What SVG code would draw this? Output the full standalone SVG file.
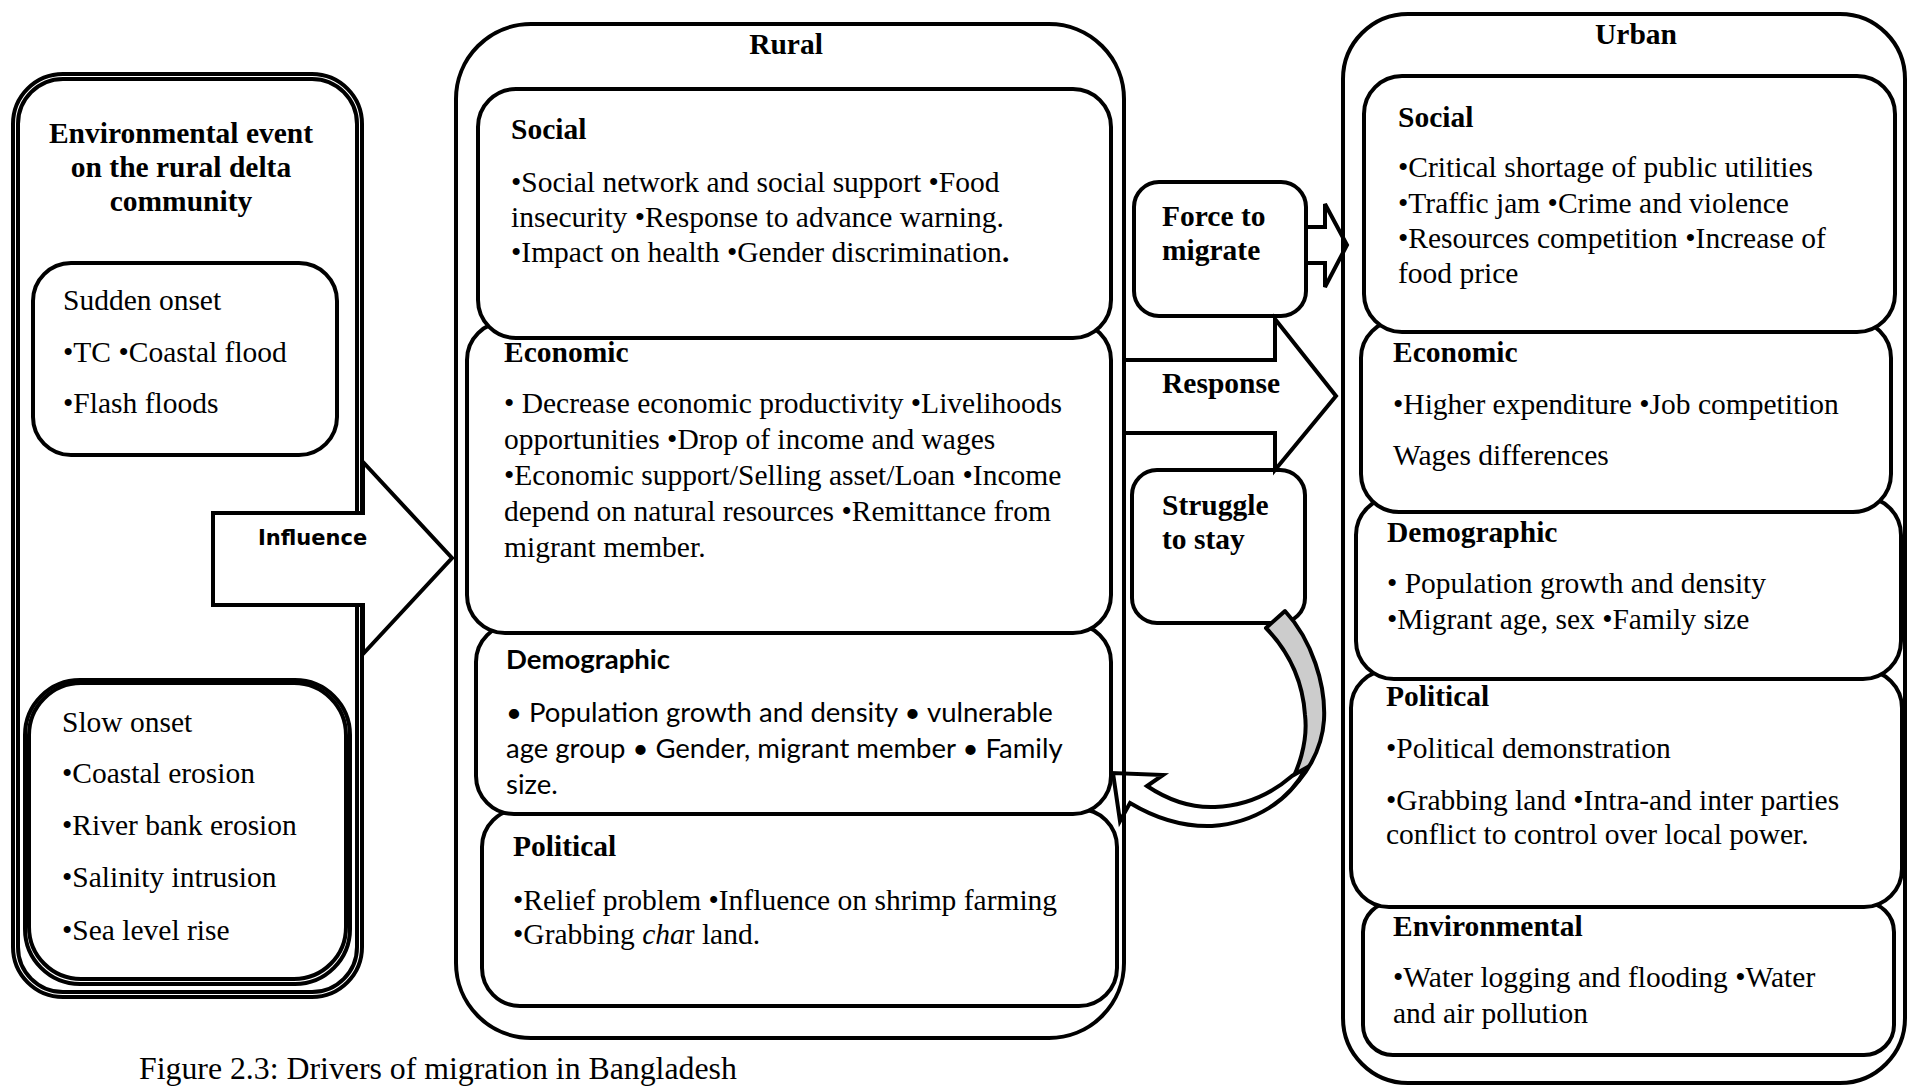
<svg xmlns="http://www.w3.org/2000/svg" width="1912" height="1086" viewBox="0 0 1912 1086">
<style>
.bx{fill:#fff;stroke:#000;stroke-width:4}
.ol{fill:none;stroke:#000;stroke-width:4}
.ar{fill:#fff;stroke:#000;stroke-width:4}
text{font-family:"Liberation Serif","Times New Roman",serif;font-size:29.5px;fill:#000}
.b{font-weight:bold}
.c{text-anchor:middle}
.sn{font-family:Lato,"Liberation Sans",sans-serif;font-size:27.5px}
.inf{font-family:"DejaVu Sans",sans-serif;font-weight:bold;font-size:21px}
.cap{font-size:31.8px}
</style>
<rect width="1912" height="1086" fill="#fff"/>

<g id="environmental-event">
<rect class="ol" x="13" y="74" width="349" height="923" rx="50" stroke-width="3.5"/>
<rect class="ol" x="18" y="79" width="339" height="913" rx="45" stroke-width="2"/>
<text class="b c" x="181" y="143">Environmental event</text>
<text class="b c" x="181" y="177">on the rural delta</text>
<text class="b c" x="181" y="211">community</text>
<g id="sudden-onset">
<rect class="bx" x="33" y="263" width="304" height="192" rx="38"/>
<text x="63" y="310">Sudden onset</text>
<text x="63" y="362">•TC •Coastal flood</text>
<text x="63" y="413">•Flash floods</text>
</g>
<g id="slow-onset">
<rect class="bx" x="25" y="680" width="325" height="304" rx="55" stroke-width="3.5"/>
<rect class="ol" x="29" y="683" width="317" height="296" rx="52" stroke-width="2"/>
<text x="62" y="732">Slow onset</text>
<text x="62" y="783">•Coastal erosion</text>
<text x="62" y="835">•River bank erosion</text>
<text x="62" y="887">•Salinity intrusion</text>
<text x="62" y="940">•Sea level rise</text>
</g>
</g>

<g id="force-to-migrate">
<rect class="bx" x="1134" y="182" width="172" height="134" rx="25"/>
<text class="b" x="1162" y="226">Force to</text>
<text class="b" x="1162" y="260">migrate</text>
</g>
<g id="struggle-to-stay">
<rect class="bx" x="1132" y="470" width="173" height="153" rx="25"/>
<text class="b" x="1162" y="515">Struggle</text>
<text class="b" x="1162" y="549">to stay</text>
</g>

<g id="connectors">
<g id="influence-arrow">
<polygon class="ar" points="213,513 363,513 363,462 452,558 363,654 363,605 213,605"/>
<text class="inf" x="258" y="545">Influence</text>
</g>
<g id="response-arrow">
<polygon class="ar" points="1124,360 1275,360 1275,319 1336,396 1275,470 1275,433 1124,433"/>
<text class="b" x="1162" y="393">Response</text>
</g>
<polygon id="force-arrow" class="ar" points="1306,227 1325,227 1325,204 1347,245 1325,287 1325,263 1306,263"/>
<g id="stay-arrow">
<path d="M1266,628 L1285,611 C1312,640 1326,685 1324,720 C1322,750 1306,778 1283,796 C1300,770 1308,740 1305,715 C1303,685 1292,655 1266,628 Z" fill="#cccccc" stroke="#000" stroke-width="4" stroke-linejoin="round"/>
<path d="M1306,768 C1290,800 1255,823 1212,826 C1183,827 1155,818 1130,803 L1120,821 L1113,773 L1163,775 L1147,786 C1168,800 1192,808 1215,807 C1245,806 1270,795 1292,776 Z" fill="#fff" stroke="#000" stroke-width="4"/>
</g>
</g>

<g id="rural">
<rect class="ol" x="456" y="24" width="668" height="1014" rx="75"/>
<text class="b c" x="786" y="54">Rural</text>
<g id="rural-political">
<rect class="bx" x="482" y="809" width="635" height="197" rx="38"/>
<text class="b" x="513" y="856">Political</text>
<text x="513" y="910">•Relief problem •Influence on shrimp farming</text>
<text x="513" y="944">•Grabbing <tspan font-style="italic">cha</tspan>r land.</text>
</g>
<g id="rural-demographic">
<rect class="bx" x="476" y="624" width="635" height="190" rx="38"/>
<text class="sn b" x="506" y="669">Demographic</text>
<text class="sn" x="506" y="722">• Population growth and density • vulnerable</text>
<text class="sn" x="506" y="758">age group • Gender, migrant member • Family</text>
<text class="sn" x="506" y="794">size.</text>
</g>
<g id="rural-economic">
<rect class="bx" x="467" y="322" width="644" height="311" rx="38"/>
<text class="b" x="504" y="362">Economic</text>
<text x="504" y="413">• Decrease economic productivity •Livelihoods</text>
<text x="504" y="449">opportunities •Drop of income and wages</text>
<text x="504" y="485">•Economic support/Selling asset/Loan •Income</text>
<text x="504" y="521">depend on natural resources •Remittance from</text>
<text x="504" y="557">migrant member.</text>
</g>
<g id="rural-social">
<rect class="bx" x="478" y="89" width="633" height="249" rx="38"/>
<text class="b" x="511" y="139">Social</text>
<text x="511" y="192">•Social network and social support •Food</text>
<text x="511" y="227">insecurity •Response to advance warning.</text>
<text x="511" y="262">•Impact on health •Gender discrimination<tspan font-weight="bold">.</tspan></text>
</g>
</g>

<g id="urban">
<rect class="ol" x="1343" y="14" width="562" height="1069" rx="65"/>
<text class="b c" x="1636" y="44">Urban</text>
<g id="urban-environmental">
<rect class="bx" x="1363" y="902" width="531" height="153" rx="30"/>
<text class="b" x="1393" y="936">Environmental</text>
<text x="1393" y="987">•Water logging and flooding •Water</text>
<text x="1393" y="1023">and air pollution</text>
</g>
<g id="urban-political">
<rect class="bx" x="1351" y="670" width="551" height="237" rx="38"/>
<text class="b" x="1386" y="706">Political</text>
<text x="1386" y="758">•Political demonstration</text>
<text x="1386" y="810">•Grabbing land •Intra-and inter parties</text>
<text x="1386" y="844">conflict to control over local power.</text>
</g>
<g id="urban-demographic">
<rect class="bx" x="1356" y="497" width="545" height="182" rx="38"/>
<text class="b" x="1387" y="542">Demographic</text>
<text x="1387" y="593">• Population growth and density</text>
<text x="1387" y="629">•Migrant age, sex •Family size</text>
</g>
<g id="urban-economic">
<rect class="bx" x="1361" y="320" width="530" height="192" rx="38"/>
<text class="b" x="1393" y="362">Economic</text>
<text x="1393" y="414">•Higher expenditure •Job competition</text>
<text x="1393" y="465">Wages differences</text>
</g>
<g id="urban-social">
<rect class="bx" x="1364" y="76" width="531" height="256" rx="38"/>
<text class="b" x="1398" y="127">Social</text>
<text x="1398" y="177">•Critical shortage of public utilities</text>
<text x="1398" y="213">•Traffic jam •Crime and violence</text>
<text x="1398" y="248">•Resources competition •Increase of</text>
<text x="1398" y="283">food price</text>
</g>
</g>

<text class="cap" x="139" y="1079">Figure 2.3: Drivers of migration in Bangladesh</text>
</svg>
